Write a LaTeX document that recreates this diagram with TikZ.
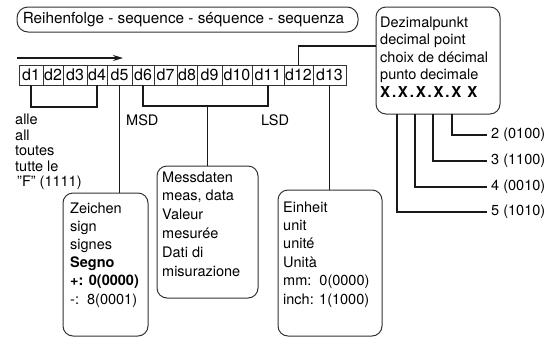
\documentclass[tikz,border=0pt]{standalone}
\usepackage{fontspec}
\setmainfont{TeX Gyre Heros}
\usetikzlibrary{arrows.meta}
\newcommand\mlines[1]{\begin{tabular}[t]{@{}l@{}}#1\end{tabular}}
\newcommand\xk{\kern1.8pt}
\begin{document}
\begin{tikzpicture}[x=1pt,y=-1pt,
  box/.style={draw=black!80, line width=1pt, rounded corners=10pt, inner sep=0pt, outer sep=0pt, anchor=north west},
  digit/.style={draw=black!80, line width=0.9pt, inner sep=0pt, outer sep=0pt, minimum height=20pt, font=\fontsize{16}{18}\selectfont},
  conn/.style={draw=black!90, line width=1.3pt},
  txt/.style={anchor=base west, inner sep=0pt, font=\fontsize{14.5}{18.4}\selectfont},
  lvl/.style={anchor=west, inner sep=4pt, font=\fontsize{14.5}{17}\selectfont}]
\useasboundingbox (0,0) rectangle (551,338);

% sequence label
\node[draw=black!80, line width=1pt, rounded corners=11pt, minimum width=341pt, minimum height=25pt,
      inner sep=0pt, font=\fontsize{15.3}{17}\selectfont] (seq) at (187.5,19.5)
      {\hspace*{-8pt}Reihenfolge - sequence - séquence - sequenza};

% arrow
\coordinate (aS) at (17,58);
\coordinate (aE) at (123,58);
\draw[conn, -{Stealth[length=10pt,width=6pt]}] (aS) -- (aE);

% digit boxes
\foreach \n/\l/\r in {1/19/43,2/43/63,3/63/87,4/87/107,5/107/132,6/132/154,7/154/177,8/177/197,9/197/222,10/222/252,11/252/284,12/284/313,13/313/346}
  \node[digit, minimum width={(\r-\l)*1pt}] (d\n) at ({(\l+\r)/2},75) {d\n};

% boxes
\node[box, minimum width=85pt, minimum height=143pt] (zeichen) at (63,193) {};
\node[box, minimum width=101pt, minimum height=132pt] (messdaten) at (157,166) {};
\node[box, minimum width=104pt, minimum height=146pt] (einheit) at (278,190) {};
\node[box, minimum width=124pt, minimum height=107pt] (dezimal) at (376,7) {};

% texts
\node[txt, font=\fontsize{14.5}{15.5}\selectfont] (alle) at (15,124.5)
  {\mlines{alle\\all\\toutes\\tutte le\\\hspace*{2pt}\char34 F\char34\ (1111)}};
\node[txt] (msd) at (126,125) {MSD};
\node[txt] (lsd) at (261,125) {LSD};
\node[txt, font=\fontsize{14.5}{18.2}\selectfont] (zt) at (70,213)
  {\mlines{Zeichen\\sign\\signes\\\textbf{Segno}\\\textbf{+: 0(0000)}\\-:\ \ 8(0001)}};
\node[txt, font=\fontsize{14.5}{18.8}\selectfont] (mt) at (162,182)
  {\mlines{Messdaten\\meas, data\\Valeur\\mesurée\\Dati di\\misurazione}};
\node[txt, font=\fontsize{14.5}{18.4}\selectfont] (et) at (283,212)
  {\mlines{Einheit\\unit\\unité\\Unità\\mm:\ \ 0(0000)\\inch: 1(1000)}};
\node[txt, font=\fontsize{14.5}{17.5}\selectfont] (dt) at (380,27)
  {\mlines{Dezimalpunkt\\decimal point\\choix de décimal\\punto decimale\\{\bfseries\fontsize{15}{17.5}\selectfont X\xk.\xk X\xk.\xk X\xk.\xk X\xk.\xk X\xk\ X}}};

\node[lvl] (l2) at (487,135) {2 (0100)};
\node[lvl] (l3) at (487,161) {3 (1100)};
\node[lvl] (l4) at (487,187) {4 (0010)};
\node[lvl] (l5) at (487,212) {5 (1010)};

% connectors
\draw[conn] (d1.south) -- ++(0,22) -| (d4.south);
\draw[conn] (d5.south) -- (d5.south |- zeichen.north);
\draw[conn] (d6.south) -- ++(0,21) coordinate (b6) -| (d11.south);
\draw[conn] (messdaten.north) -- (messdaten.north |- b6);
\draw[conn] (d12.north) -- ++(0,-19) coordinate (k12) -- (k12 -| dezimal.west);
\draw[conn] (d13.south) -- (d13.south |- einheit.north);

\draw[conn] ([xshift=76pt]dezimal.south west) |- (l2.west);
\draw[conn] ([xshift=57pt]dezimal.south west) |- (l3.west);
\draw[conn] ([xshift=39pt]dezimal.south west) |- (l4.west);
\draw[conn] ([xshift=21pt]dezimal.south west) |- (l5.west);
\end{tikzpicture}
\end{document}
